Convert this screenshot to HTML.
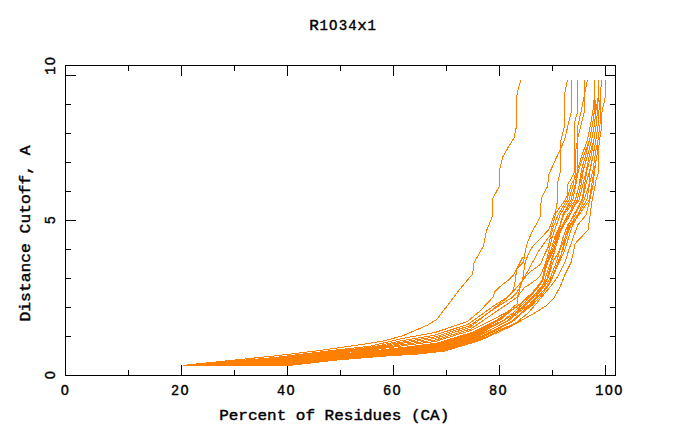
<!DOCTYPE html>
<html><head><meta charset="utf-8"><title>R1034x1</title>
<style>
html,body{margin:0;padding:0;background:#fff;}
body{width:680px;height:440px;overflow:hidden;position:relative;font-family:"Liberation Mono",monospace;}
svg{position:absolute;left:0;top:0;}
.t{position:absolute;font-family:"Liberation Mono",monospace;font-weight:bold;font-size:14px;line-height:14px;color:#000;white-space:pre;transform-origin:0 0;}
</style></head><body>
<svg width="680" height="440" viewBox="0 0 680 440">
<g shape-rendering="crispEdges"><rect x="65" y="65" width="551" height="1" fill="#000"/><rect x="65" y="375" width="551" height="1" fill="#000"/><rect x="65" y="65" width="1" height="311" fill="#000"/><rect x="615" y="65" width="1" height="311" fill="#000"/><rect x="181" y="365" width="1" height="10" fill="#000"/><rect x="181" y="66" width="1" height="10" fill="#000"/><rect x="287" y="365" width="1" height="10" fill="#000"/><rect x="287" y="66" width="1" height="10" fill="#000"/><rect x="393" y="365" width="1" height="10" fill="#000"/><rect x="393" y="66" width="1" height="10" fill="#000"/><rect x="499" y="365" width="1" height="10" fill="#000"/><rect x="499" y="66" width="1" height="10" fill="#000"/><rect x="605" y="365" width="1" height="10" fill="#000"/><rect x="605" y="66" width="1" height="10" fill="#000"/><rect x="128" y="370" width="1" height="5" fill="#000"/><rect x="128" y="66" width="1" height="5" fill="#000"/><rect x="234" y="370" width="1" height="5" fill="#000"/><rect x="234" y="66" width="1" height="5" fill="#000"/><rect x="340" y="370" width="1" height="5" fill="#000"/><rect x="340" y="66" width="1" height="5" fill="#000"/><rect x="446" y="370" width="1" height="5" fill="#000"/><rect x="446" y="66" width="1" height="5" fill="#000"/><rect x="552" y="370" width="1" height="5" fill="#000"/><rect x="552" y="66" width="1" height="5" fill="#000"/><rect x="66" y="75" width="10" height="1" fill="#000"/><rect x="605" y="75" width="10" height="1" fill="#000"/><rect x="66" y="220" width="10" height="1" fill="#000"/><rect x="605" y="220" width="10" height="1" fill="#000"/><rect x="66" y="104" width="5" height="1" fill="#000"/><rect x="610" y="104" width="5" height="1" fill="#000"/><rect x="66" y="133" width="5" height="1" fill="#000"/><rect x="610" y="133" width="5" height="1" fill="#000"/><rect x="66" y="162" width="5" height="1" fill="#000"/><rect x="610" y="162" width="5" height="1" fill="#000"/><rect x="66" y="191" width="5" height="1" fill="#000"/><rect x="610" y="191" width="5" height="1" fill="#000"/><rect x="66" y="249" width="5" height="1" fill="#000"/><rect x="610" y="249" width="5" height="1" fill="#000"/><rect x="66" y="278" width="5" height="1" fill="#000"/><rect x="610" y="278" width="5" height="1" fill="#000"/><rect x="66" y="307" width="5" height="1" fill="#000"/><rect x="610" y="307" width="5" height="1" fill="#000"/><rect x="66" y="336" width="5" height="1" fill="#000"/><rect x="610" y="336" width="5" height="1" fill="#000"/></g>
<g fill="none" stroke="#ff8000" stroke-width="1" shape-rendering="crispEdges" stroke-linejoin="round"><path d="M520.7,80.2 L517.3,92.7 L516.4,99.5 L516.4,126.8 L513.9,138.2 L508.2,147.3 L502.5,157.5 L499.8,169.0 L499.5,186.0 L492.7,198.6 L492.7,215.7 L486.6,230.5 L483.2,246.4 L475.9,259.5 L473.9,263.6 L472.7,273.9 L458.4,290.9 L448.2,304.5 L436.8,319.3 L427.7,325.0 L402.7,335.8 L385.0,340.6 L362.0,344.5 L340.0,347.5 L320.0,350.5 L275.0,355.9 L183.0,365.4"/><path d="M605.5,80.0 L605.5,96.0 L601.5,114.0 L601.8,127.0 L600.6,133.0 L599.4,142.0 L598.5,150.0 L598.1,174.0 L596.2,179.4 L594.4,188.8 L592.5,198.2 L591.0,207.6 L590.6,211.0 L588.8,225.0 L588.0,230.0 L575.0,243.8 L573.8,250.0 L571.2,262.0 L565.0,274.5 L560.0,287.0 L553.8,298.2 L546.2,305.8 L536.2,312.0 L527.5,317.0 L510.5,326.6 L491.0,335.5 L480.0,340.5 L445.0,351.0 L418.5,354.0 L386.0,356.0 L340.0,359.7 L290.0,365.3 L183.0,365.5"/><path d="M571.5,80.0 L571.5,111.0 L564.5,140.0 L549.0,174.0 L547.3,187.0 L541.2,198.2 L540.5,216.0 L537.5,222.0 L532.5,231.0 L527.5,242.0 L525.7,249.3 L524.4,256.5 L522.3,258.0 L517.7,267.0 L514.0,274.4 L508.6,279.8 L500.5,286.2 L495.0,291.6 L492.7,297.5 L480.0,311.0 L467.0,321.8 L434.7,332.6 L402.0,338.5 L370.0,346.3 L340.0,349.5 L275.0,357.5 L183.0,365.5"/><path d="M571.5,80.0 L571.5,111.0 L564.5,140.0 L549.0,174.0 L547.3,187.0 L541.2,198.2 L540.5,216.0 L537.5,222.0 L532.5,231.0 L527.5,242.0 L525.7,249.3 L524.4,256.5 L523.5,262.0 L516.8,269.0 L514.5,285.3 L513.2,289.8 L510.5,294.4 L506.0,298.0 L495.0,305.0 L468.2,324.2 L435.0,335.1 L402.8,340.5 L370.5,347.4 L340.0,350.5 L275.0,358.2 L183.0,365.5"/><path d="M567.5,80.0 L564.5,94.0 L564.5,126.0 L560.5,142.0 L560.5,171.0 L557.5,183.0 L557.5,201.0 L555.6,211.0 L551.6,222.0 L549.0,229.3 L539.0,240.2 L532.5,246.5 L529.0,253.0 L526.8,258.0 L525.0,263.5 L524.0,270.0 L523.2,276.0 L521.8,281.6 L519.5,288.0 L516.8,292.5 L511.4,298.0 L497.0,307.0 L469.1,325.9 L435.2,336.8 L403.3,341.9 L370.8,348.1 L340.0,351.2 L275.0,358.8 L183.0,365.5"/><path d="M577.5,80.0 L577.5,112.0 L574.5,123.0 L574.5,172.0 L570.8,179.4 L568.0,184.0 L567.8,194.5 L565.0,200.0 L556.0,213.0 L552.0,226.5 L549.8,235.6 L544.4,243.0 L538.0,252.0 L535.0,258.0 L531.4,264.4 L528.6,269.8 L525.9,274.4 L523.2,279.0 L521.4,283.5 L519.5,289.0 L518.6,294.4 L517.7,298.0 L517.0,304.0 L507.5,312.0 L495.3,318.2 L471.4,330.3 L435.8,341.3 L404.6,345.5 L371.8,350.0 L340.0,353.0 L275.0,360.1 L183.0,365.5"/><path d="M584.5,80.0 L584.5,111.0 L578.0,137.0 L577.5,174.0 L571.0,185.0 L567.0,200.0 L558.0,215.0 L553.0,228.0 L550.7,236.5 L548.0,247.5 L544.4,254.7 L541.5,262.0 L540.5,264.4 L530.5,271.6 L526.0,276.2 L521.5,282.0 L513.8,290.8 L505.0,299.5 L495.0,307.5 L469.9,327.4 L435.5,338.3 L403.7,343.1 L371.2,348.7 L340.0,351.8 L275.0,359.2 L183.0,365.5"/><path d="M587.5,80.0 L584.5,95.0 L581.5,110.0 L578.0,125.0 L577.5,140.0 L575.0,155.0 L576.0,170.0 L573.0,185.0 L569.0,200.0 L560.0,215.0 L556.5,225.0 L552.0,237.5 L549.0,250.0 L546.0,262.0 L540.5,275.3 L536.0,279.8 L529.5,284.4 L525.0,287.0 L521.4,291.6 L516.0,298.0 L506.0,305.0 L497.0,311.0 L470.7,329.0 L435.7,339.9 L404.2,344.4 L371.5,349.4 L340.0,352.5 L275.0,359.7 L183.0,365.5"/><path d="M183.0,365.5 L276.2,360.9 L340.0,354.0 L373.1,350.9 L406.1,347.1 L436.7,343.2 L472.6,332.2 L498.3,319.2 L509.0,312.1 L520.4,304.5 L530.0,295.6 L538.5,286.7 L542.2,280.2 L545.8,262.0 L551.1,250.0 L554.6,237.5 L560.1,225.0 L562.7,215.0 L571.0,200.0 L575.0,185.0 L577.5,170.0 L582.0,155.0 L587.5,140.0 L590.5,125.0 L593.0,110.0 L594.5,95.0 L594.5,80.0"/><path d="M183.0,365.5 L277.4,361.3 L340.0,354.5 L374.2,351.4 L407.2,347.7 L437.4,343.9 L473.3,332.9 L499.4,319.4 L508.4,312.0 L519.4,304.5 L529.8,295.6 L537.1,286.9 L541.8,280.3 L548.0,262.0 L553.6,250.0 L557.3,237.5 L560.6,225.0 L562.9,215.0 L572.8,200.0 L575.8,185.0 L578.6,170.0 L583.9,155.0 L589.6,140.0 L592.4,125.0 L594.5,110.0 L594.5,95.0 L594.5,80.0"/><path d="M183.0,365.5 L278.6,361.7 L340.0,355.0 L375.4,351.8 L408.2,348.3 L438.2,344.5 L473.9,333.7 L500.7,319.6 L509.5,312.1 L519.3,304.5 L529.0,295.7 L538.5,286.7 L542.0,280.2 L547.1,262.0 L552.3,250.0 L556.0,237.5 L560.4,225.0 L563.7,215.0 L575.4,200.0 L579.2,185.0 L581.4,170.0 L585.8,155.0 L589.6,140.0 L592.4,125.0 L594.5,110.0 L594.5,95.0 L594.5,80.0"/><path d="M183.0,365.5 L279.8,362.0 L340.0,355.5 L376.5,352.3 L409.3,348.9 L438.9,345.2 L474.6,334.4 L503.7,320.0 L513.6,312.3 L522.4,304.5 L531.3,295.5 L538.8,286.6 L543.0,280.0 L547.5,262.0 L553.8,250.0 L556.6,237.5 L562.7,225.0 L568.9,215.0 L575.2,200.0 L579.4,185.0 L583.1,170.0 L587.6,155.0 L591.7,140.0 L594.3,125.0 L596.0,110.0 L594.5,95.0 L594.5,80.0"/><path d="M183.0,365.5 L281.0,362.4 L340.0,356.0 L377.6,352.7 L410.4,349.5 L439.6,345.9 L475.2,335.1 L504.4,320.1 L516.6,312.4 L525.8,304.5 L533.7,295.3 L542.2,286.1 L546.9,279.2 L551.5,262.0 L555.1,250.0 L557.9,237.5 L564.0,225.0 L570.1,215.0 L577.2,200.0 L581.1,185.0 L583.3,170.0 L587.6,155.0 L591.7,140.0 L594.3,125.0 L596.0,110.0 L598.5,95.0 L598.5,80.0"/><path d="M183.0,365.5 L282.2,362.8 L340.0,356.5 L378.7,353.1 L411.5,350.1 L440.3,346.6 L475.8,335.8 L504.6,320.1 L516.0,312.4 L524.6,304.5 L534.1,295.3 L542.1,286.1 L544.9,279.6 L550.8,262.0 L554.9,250.0 L558.7,237.5 L562.7,225.0 L567.5,215.0 L579.1,200.0 L582.8,185.0 L586.5,170.0 L589.5,155.0 L593.8,140.0 L596.2,125.0 L597.5,110.0 L598.5,95.0 L598.5,80.0"/><path d="M183.0,365.5 L283.4,363.2 L340.0,357.0 L379.8,353.6 L412.6,350.7 L441.0,347.3 L476.5,336.5 L508.6,320.7 L518.6,312.5 L529.4,304.5 L537.4,295.1 L544.9,285.7 L550.0,278.6 L556.4,262.0 L559.9,250.0 L565.1,237.5 L568.6,225.0 L573.6,215.0 L581.9,200.0 L584.5,185.0 L587.0,170.0 L591.4,155.0 L593.8,140.0 L596.2,125.0 L597.5,110.0 L598.5,95.0 L598.5,80.0"/><path d="M183.0,365.5 L284.6,363.6 L340.0,357.5 L381.0,354.0 L413.6,351.3 L441.8,347.9 L477.1,337.3 L507.7,320.6 L517.0,312.4 L526.8,304.5 L535.6,295.2 L543.9,285.9 L547.6,279.1 L553.1,262.0 L559.5,250.0 L563.0,237.5 L567.7,225.0 L575.1,215.0 L582.5,200.0 L585.8,185.0 L589.7,170.0 L593.2,155.0 L595.9,140.0 L598.1,125.0 L599.0,110.0 L600.5,95.0 L601.5,80.0"/><path d="M183.0,365.5 L285.8,364.0 L340.0,358.0 L382.1,354.5 L414.7,351.9 L442.5,348.6 L477.8,338.0 L511.6,321.2 L521.5,312.7 L529.8,304.5 L539.3,295.0 L548.1,285.2 L551.7,278.3 L559.3,262.0 L564.8,250.0 L568.6,237.5 L572.8,225.0 L578.0,215.0 L583.9,200.0 L588.9,185.0 L590.1,170.0 L593.2,155.0 L595.9,140.0 L598.1,125.0 L599.0,110.0 L600.5,95.0 L601.5,80.0"/><path d="M183.0,365.5 L287.0,364.3 L340.0,358.5 L383.2,354.9 L415.8,352.5 L443.2,349.3 L478.4,338.7 L512.8,321.4 L522.6,312.7 L533.0,304.5 L541.8,294.8 L548.6,285.2 L552.2,278.2 L559.1,262.0 L562.4,250.0 L565.1,237.5 L569.8,225.0 L577.5,215.0 L586.8,200.0 L589.3,185.0 L593.0,170.0 L595.1,155.0 L598.0,140.0 L600.0,125.0 L600.5,110.0 L600.5,95.0 L601.5,80.0"/><path d="M183.0,365.5 L288.2,364.7 L340.0,359.0 L384.3,355.3 L416.9,353.1 L443.9,350.0 L479.0,339.4 L512.9,321.4 L522.0,312.7 L531.2,304.5 L539.9,294.9 L547.5,285.3 L551.9,278.2 L558.0,262.0 L563.0,250.0 L566.4,237.5 L570.9,225.0 L579.0,215.0 L589.2,200.0 L591.6,185.0 L594.2,170.0 L597.0,155.0 L598.0,140.0 L600.0,125.0 L600.5,110.0 L600.5,95.0 L601.5,80.0"/><path d="M183.0,365.5 L289.4,365.1 L340.0,359.5 L385.4,355.8 L418.0,353.7 L444.6,350.7 L479.7,340.1 L516.9,322.0 L528.1,313.0 L535.6,304.5 L543.6,294.7 L551.9,284.7 L557.4,277.1 L565.0,262.0 L568.8,250.0 L573.2,237.5 L577.7,225.0 L586.0,215.0 L589.7,200.0 L593.0,185.0 L594.7,170.0 L597.0,155.0 L598.0,140.0 L600.0,125.0 L600.5,110.0 L600.5,95.0 L601.5,80.0"/></g>
<g font-family="Liberation Mono, monospace" font-weight="normal" font-size="14.5px" fill="#000" stroke="#000" stroke-width="0.4" stroke-linejoin="round" xml:space="preserve"><text transform="translate(314.1,30.3) scale(1.1034,1)" text-anchor="middle">R</text><text transform="translate(323.7,30.3) scale(0.9500,1)" text-anchor="middle" font-size="14.8px">1</text><text transform="translate(333.3,30.3) scale(0.9500,1)" text-anchor="middle" font-size="14.8px">O</text><text transform="translate(342.9,30.3) scale(0.9500,1)" text-anchor="middle" font-size="14.8px">3</text><text transform="translate(352.5,30.3) scale(0.9500,1)" text-anchor="middle" font-size="14.8px">4</text><text transform="translate(362.1,30.3) scale(1.1034,1)" text-anchor="middle">x</text><text transform="translate(371.7,30.3) scale(0.9500,1)" text-anchor="middle" font-size="14.8px">1</text><text transform="translate(334.2,420.2) scale(1.1034,1)" text-anchor="middle">Percent of Residues (CA)</text><text transform="translate(65.5,395.2) scale(0.9200,1)" text-anchor="middle" font-size="14.8px" letter-spacing="1.45px">O</text><text transform="translate(180.6,395.2) scale(0.9200,1)" text-anchor="middle" font-size="14.8px" letter-spacing="1.45px">2O</text><text transform="translate(286.6,395.2) scale(0.9200,1)" text-anchor="middle" font-size="14.8px" letter-spacing="1.45px">4O</text><text transform="translate(392.6,395.2) scale(0.9200,1)" text-anchor="middle" font-size="14.8px" letter-spacing="1.45px">6O</text><text transform="translate(498.6,395.2) scale(0.9200,1)" text-anchor="middle" font-size="14.8px" letter-spacing="1.45px">8O</text><text transform="translate(609.4,395.2) scale(0.9200,1)" text-anchor="middle" font-size="14.8px" letter-spacing="1.45px">1OO</text><text transform="translate(55.1,65.2) rotate(-90) scale(0.9200,1)" text-anchor="middle" font-size="14.8px" letter-spacing="1.45px">1O</text><text transform="translate(55.1,219.5) rotate(-90) scale(0.9200,1)" text-anchor="middle" font-size="14.8px" letter-spacing="1.45px">5</text><text transform="translate(55.1,374.5) rotate(-90) scale(0.9200,1)" text-anchor="middle" font-size="14.8px" letter-spacing="1.45px">O</text><text transform="translate(30.2,233.4) rotate(-90) scale(1.1255,1)" text-anchor="middle">Distance Cutoff, A</text></g>
</svg>
</body></html>
